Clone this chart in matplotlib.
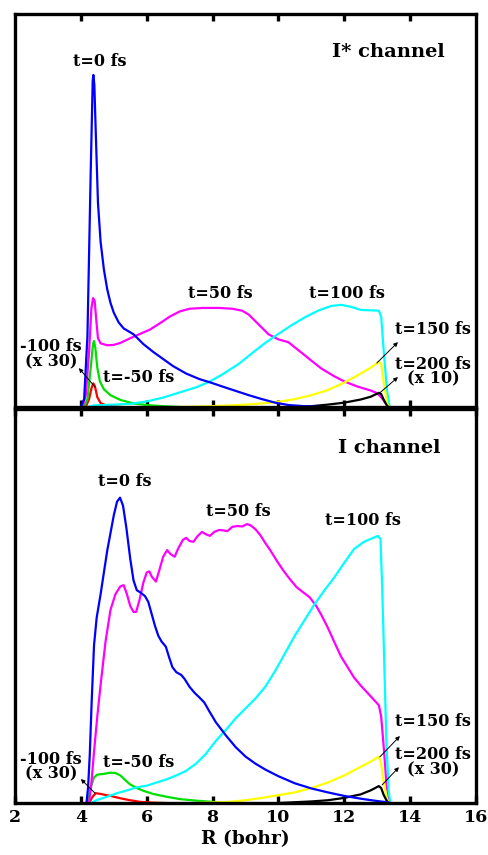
import numpy as np
import matplotlib
matplotlib.use('Agg')
from matplotlib import pyplot as plt

plt.rcParams['font.family'] = ['DejaVu Serif']
plt.rcParams['font.weight'] = 'bold'

# ---- I* channel (upper panel) ----
top_r_m100 = [4.15, 4.25, 4.33, 4.38, 4.43, 4.5, 4.6, 4.8, 5.2]
top_v_m100 = [0, 0.02, 0.05, 0.06, 0.052, 0.025, 0.01, 0.003, 0]

top_r_m50 = [4.1, 4.2, 4.3, 4.37, 4.4, 4.44, 4.5, 4.58, 4.7, 4.9, 5.2, 5.6, 6.0, 6.5, 7.0]
top_v_m50 = [0, 0.02, 0.1, 0.16, 0.168, 0.15, 0.1, 0.065, 0.045, 0.03, 0.018, 0.009, 0.005, 0.002, 0]

top_r_0 = [4.0, 4.1, 4.2, 4.3, 4.36, 4.38, 4.41, 4.46, 4.52, 4.6, 4.7, 4.8, 4.9, 5.0, 5.15,
           5.3, 5.6, 5.9, 6.2, 6.5, 6.8, 7.2, 7.6, 7.95, 8.3, 8.7, 9.1, 9.5, 9.9, 10.3, 10.8, 11.3]
top_v_0 = [0, 0.02, 0.18, 0.6, 0.83, 0.845, 0.82, 0.68, 0.52, 0.42, 0.35, 0.30, 0.265, 0.24, 0.215,
           0.2, 0.185, 0.16, 0.14, 0.122, 0.104, 0.085, 0.071, 0.062, 0.052, 0.041, 0.03, 0.02, 0.011,
           0.005, 0.002, 0]

top_r_50 = [4.05, 4.15, 4.25, 4.32, 4.37, 4.42, 4.47, 4.52, 4.6, 4.8, 5.0, 5.2, 5.5, 5.8, 6.1,
            6.4, 6.7, 7.0, 7.3, 7.7, 8.2, 8.6, 8.9, 9.1, 9.4, 9.7, 10.0, 10.3, 10.6, 11.0, 11.3,
            11.7, 12.0, 12.4, 12.8, 13.0, 13.15, 13.25, 13.35]
top_v_50 = [0, 0.03, 0.14, 0.25, 0.277, 0.27, 0.22, 0.175, 0.162, 0.157, 0.158, 0.163, 0.175,
            0.186, 0.197, 0.213, 0.23, 0.243, 0.25, 0.252, 0.252, 0.25, 0.245, 0.235, 0.21, 0.185,
            0.172, 0.165, 0.145, 0.118, 0.098, 0.078, 0.065, 0.052, 0.042, 0.035, 0.022, 0.01, 0]

top_r_100 = [4.2, 4.4, 5.0, 5.5, 6.0, 6.5, 7.0, 7.5, 7.9, 8.3, 8.8, 9.2, 9.6, 10.0, 10.4, 10.8,
             11.2, 11.6, 11.9, 12.2, 12.5, 12.8, 13.05, 13.12, 13.2, 13.3, 13.38]
top_v_100 = [0, 0.004, 0.006, 0.008, 0.014, 0.024, 0.037, 0.05, 0.064, 0.083, 0.11, 0.137, 0.163,
             0.186, 0.208, 0.228, 0.245, 0.257, 0.26, 0.255, 0.247, 0.246, 0.245, 0.23, 0.14, 0.04, 0]

top_r_150 = [7.0, 8.0, 9.0, 9.5, 10.0, 10.5, 11.0, 11.5, 12.0, 12.5, 12.8, 13.05, 13.12, 13.2, 13.3, 13.35]
top_v_150 = [0, 0.002, 0.006, 0.009, 0.013, 0.02, 0.03, 0.043, 0.062, 0.085, 0.1, 0.115, 0.11, 0.06, 0.01, 0]

top_r_200 = [10.5, 11.0, 11.5, 12.0, 12.5, 12.8, 13.05, 13.12, 13.2, 13.3, 13.35]
top_v_200 = [0, 0.002, 0.006, 0.011, 0.019, 0.026, 0.036, 0.033, 0.018, 0.003, 0]

# ---- I channel (lower panel) ----
bot_r_m100 = [4.25, 4.35, 4.45, 4.6, 4.9, 5.2, 5.5, 5.8, 6.2, 6.6]
bot_v_m100 = [0, 0.015, 0.025, 0.023, 0.018, 0.012, 0.007, 0.003, 0.001, 0]

bot_r_m50 = [4.2, 4.3, 4.4, 4.5, 4.7, 4.9, 5.05, 5.2, 5.35, 5.5, 5.7, 5.9, 6.2, 6.6, 7.0, 7.5, 8.0, 8.5]
bot_v_m50 = [0, 0.04, 0.065, 0.072, 0.074, 0.077, 0.076, 0.07, 0.058, 0.047, 0.038, 0.031, 0.023,
             0.016, 0.01, 0.006, 0.003, 0]

bot_r_0 = [4.17, 4.22, 4.27, 4.33, 4.4, 4.48, 4.6, 4.8, 5.0, 5.1, 5.19, 5.28, 5.38, 5.5, 5.6, 5.7,
           5.8, 5.95, 6.05, 6.15, 6.25, 6.35, 6.45, 6.58, 6.68, 6.78, 6.9, 7.05, 7.15, 7.3, 7.45,
           7.6, 7.75, 7.9, 8.1, 8.4, 8.7, 9.0, 9.3, 9.6, 10.0, 10.5, 11.0, 11.5, 12.0, 12.5, 13.0,
           13.3, 13.4]
bot_v_0 = [0, 0.04, 0.12, 0.26, 0.4, 0.47, 0.53, 0.64, 0.73, 0.765, 0.775, 0.755, 0.7, 0.62, 0.565,
           0.54, 0.535, 0.525, 0.51, 0.48, 0.45, 0.425, 0.41, 0.397, 0.37, 0.345, 0.332, 0.325,
           0.315, 0.295, 0.28, 0.268, 0.255, 0.233, 0.205, 0.172, 0.142, 0.118, 0.1, 0.085, 0.068,
           0.05, 0.037, 0.027, 0.018, 0.011, 0.005, 0.002, 0]

bot_r_50 = [4.25, 4.32, 4.4, 4.5, 4.6, 4.75, 4.9, 5.05, 5.2, 5.3, 5.4, 5.5, 5.6, 5.68, 5.78, 5.9,
            6.0, 6.08, 6.15, 6.28, 6.38, 6.5, 6.62, 6.72, 6.85, 6.95, 7.1, 7.2, 7.3, 7.42, 7.55,
            7.68, 7.8, 7.92, 8.05, 8.2, 8.33, 8.45, 8.6, 8.75, 8.9, 9.05, 9.15, 9.3, 9.45, 9.6,
            9.75, 9.95, 10.15, 10.35, 10.55, 10.75, 10.95, 11.15, 11.3, 11.5, 11.7, 11.9, 12.1,
            12.3, 12.5, 12.7, 12.9, 13.05, 13.12, 13.2, 13.28, 13.35]
bot_v_50 = [0, 0.05, 0.13, 0.22, 0.3, 0.41, 0.49, 0.53, 0.55, 0.553, 0.53, 0.5, 0.485, 0.485,
            0.515, 0.56, 0.585, 0.588, 0.575, 0.562, 0.59, 0.625, 0.642, 0.632, 0.625, 0.645,
            0.668, 0.673, 0.665, 0.663, 0.678, 0.688, 0.682, 0.678, 0.688, 0.693, 0.692, 0.69,
            0.701, 0.703, 0.702, 0.708, 0.705, 0.695, 0.68, 0.66, 0.642, 0.615, 0.59, 0.568,
            0.548, 0.535, 0.522, 0.5, 0.478, 0.445, 0.408, 0.372, 0.345, 0.318, 0.298, 0.28,
            0.262, 0.248, 0.22, 0.14, 0.05, 0]

bot_r_100 = [4.3, 4.5, 4.8, 5.1, 5.4, 5.7, 6.0, 6.3, 6.6, 6.9, 7.2, 7.5, 7.8, 8.1, 8.4, 8.7, 9.0,
             9.3, 9.6, 9.9, 10.2, 10.5, 10.8, 11.1, 11.4, 11.7, 12.0, 12.3, 12.6, 12.85, 13.02,
             13.1, 13.15, 13.2, 13.28, 13.35, 13.4]
bot_v_100 = [0, 0.008, 0.016, 0.025, 0.032, 0.04, 0.044, 0.052, 0.06, 0.07, 0.082, 0.1, 0.125,
             0.158, 0.185, 0.215, 0.24, 0.265, 0.295, 0.335, 0.38, 0.425, 0.465, 0.505, 0.54,
             0.573, 0.61, 0.645, 0.663, 0.672, 0.678, 0.67, 0.55, 0.4, 0.15, 0.03, 0]

bot_r_150 = [7.5, 8.5, 9.0, 9.5, 10.0, 10.5, 11.0, 11.5, 12.0, 12.5, 12.8, 13.05, 13.12, 13.2, 13.3, 13.35]
bot_v_150 = [0, 0.003, 0.007, 0.013, 0.02, 0.027, 0.038, 0.052, 0.07, 0.092, 0.105, 0.118, 0.1, 0.05, 0.01, 0]

bot_r_200 = [10.0, 10.5, 11.0, 11.5, 12.0, 12.5, 12.8, 13.05, 13.12, 13.2, 13.3, 13.35]
bot_v_200 = [0, 0.002, 0.004, 0.007, 0.013, 0.022, 0.032, 0.043, 0.038, 0.02, 0.004, 0]

x_ticks = [2, 4, 6, 8, 10, 12, 14, 16]

colors = {'m100': '#ff0000', 'm50': '#00e000', '0': '#0000ff', '50': '#ff00ff',
          '100': '#00ffff', '150': '#ffff00', '200': '#000000'}


def draw_panel(ax, curves):
    for key, r, v in curves:
        ax.plot(r, v, color=colors[key], lw=1.6, solid_joinstyle='round', zorder=3)
    ax.set_xlim(2, 16)
    ax.set_ylim(0, 1)
    ax.set_yticks([])
    ax.set_xticks(x_ticks[1:-1])
    ax.tick_params(axis='x', direction='in', top=True, bottom=True, length=5, width=2.4)
    for sp in ax.spines.values():
        sp.set_linewidth(2.4)
        sp.set_zorder(4)


def label(ax, x, y, s, size=11.5):
    ax.text(x, y, s, ha='center', va='center', fontsize=size, fontweight='bold',
            linespacing=0.85, multialignment='center', zorder=5)


def arrow(ax, tail, head):
    ax.annotate('', xy=head, xytext=tail,
                arrowprops=dict(arrowstyle='-|>', color='black', lw=0.7,
                                mutation_scale=6, shrinkA=0, shrinkB=0), zorder=5)


fig = plt.figure(figsize=(4.88, 8.55), dpi=100)
ax1 = fig.add_axes([0.0307, 0.524, 0.9447, 0.4596])
ax2 = fig.add_axes([0.0307, 0.0608, 0.9447, 0.4608])

draw_panel(ax1, [('m100', top_r_m100, top_v_m100), ('m50', top_r_m50, top_v_m50),
                 ('50', top_r_50, top_v_50), ('100', top_r_100, top_v_100),
                 ('150', top_r_150, top_v_150), ('200', top_r_200, top_v_200),
                 ('0', top_r_0, top_v_0)])
ax1.set_xticklabels([])

draw_panel(ax2, [('m100', bot_r_m100, bot_v_m100), ('m50', bot_r_m50, bot_v_m50),
                 ('50', bot_r_50, bot_v_50), ('100', bot_r_100, bot_v_100),
                 ('150', bot_r_150, bot_v_150), ('200', bot_r_200, bot_v_200),
                 ('0', bot_r_0, bot_v_0)])
ax2.set_xticks(x_ticks)
ax2.set_xticklabels([str(t) for t in x_ticks], fontsize=12.5, fontweight='bold')
ax2.tick_params(axis='x', pad=4)
ax2.set_xlabel('R (bohr)', fontsize=13.5, fontweight='bold', labelpad=3)

# upper panel labels
label(ax1, 13.33, 0.903, 'I* channel', 14)
label(ax1, 4.58, 0.88, 't=0 fs')
label(ax1, 8.23, 0.288, 't=50 fs')
label(ax1, 12.08, 0.29, 't=100 fs')
label(ax1, 14.69, 0.198, 't=150 fs')
label(ax1, 14.69, 0.09, 't=200 fs\n(x 10)')
label(ax1, 3.1, 0.134, '-100 fs\n(x 30)')
label(ax1, 5.74, 0.076, 't=-50 fs')
arrow(ax1, (4.43, 0.051), (3.94, 0.099))
arrow(ax1, (12.99, 0.112), (13.63, 0.165))
arrow(ax1, (13.08, 0.036), (13.63, 0.076))

# lower panel labels
label(ax2, 13.36, 0.901, 'I channel', 14)
label(ax2, 5.34, 0.817, 't=0 fs')
label(ax2, 8.77, 0.739, 't=50 fs')
label(ax2, 12.57, 0.718, 't=100 fs')
label(ax2, 14.69, 0.206, 't=150 fs')
label(ax2, 14.69, 0.104, 't=200 fs\n(x 30)')
label(ax2, 3.1, 0.092, '-100 fs\n(x 30)')
label(ax2, 5.74, 0.102, 't=-50 fs')
arrow(ax2, (4.43, 0.025), (4.0, 0.061))
arrow(ax2, (13.08, 0.117), (13.69, 0.170))
arrow(ax2, (13.15, 0.046), (13.66, 0.091))

fig.savefig('out.png', dpi=100)
